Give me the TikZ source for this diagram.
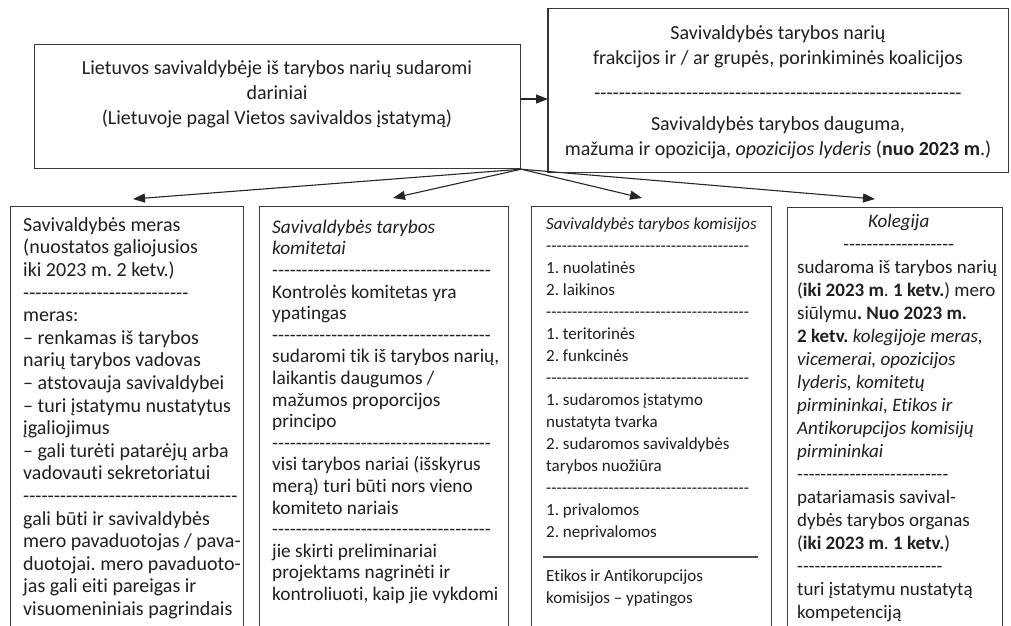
\documentclass[tikz,border=0pt]{standalone}
\usepackage{fontspec}
\setmainfont{Carlito}[Ligatures={TeX,NoCommon}]
\usetikzlibrary{arrows.meta}
\ExplSyntaxOn
\cs_new:Npn \dashes #1 { \prg_replicate:nn {#1} { -\kern0pt } }
\ExplSyntaxOff
\frenchspacing
\begin{document}
\begin{tikzpicture}[x=1pt,y=-1pt,
  box/.style={draw=black!78, line width=1.2pt, rectangle, inner sep=0pt, anchor=north west},
  txt/.style={inner sep=0pt, anchor=north west, align=left, text=black!88},
  ctxt/.style={inner sep=0pt, anchor=north, align=center, text=black!88},
  arr/.style={-{Triangle[length=12pt,width=9pt]}, line width=1.1pt, draw=black!85},
  rule/.style={draw=black!70, line width=1.3pt}]
\useasboundingbox (0,0) rectangle (1011,625);
\clip (0,0) rectangle (1011,625);
\fill[white] (0,0) rectangle (1011,625);

% top boxes
\node[box, minimum width=486pt, minimum height=124pt] (main) at (34,44) {};
\node[ctxt, font=\fontsize{20}{25}\selectfont] (maintxt) at (277,56.5)
  {\strut Lietuvos savivaldybėje iš tarybos narių sudaromi\\
   dariniai\\
   (Lietuvoje pagal Vietos savivaldos įstatymą)};

\node[box, minimum width=460pt, minimum height=164pt] (right) at (548,8) {};
\draw[draw=black!80, line width=2.2pt] (right.north west) -- (right.south west);
\node[ctxt, font=\fontsize{20}{25}\selectfont] (righttxt) at (778,21.5)
  {\strut Savivaldybės tarybos narių\\
   frakcijos ir / ar grupės, porinkiminės koalicijos\\[10pt]
   \dashes{60}\\[6pt]
   Savivaldybės tarybos dauguma,\\
   mažuma ir opozicija, \textit{opozicijos lyderis} (\textbf{nuo 2023 m}.)};

% bottom boxes
\node[box, minimum width=233pt, minimum height=440pt] (b1) at (10,206) {};
\node[box, minimum width=249pt, minimum height=440pt] (b2) at (259,206) {};
\node[box, minimum width=240pt, minimum height=440pt] (b3) at (531,206) {};
\node[box, minimum width=215pt, minimum height=440pt] (b4) at (787,207) {};

\node[txt, font=\fontsize{20}{22.6}\selectfont] (b1t) at (23,215.2)
  {\strut Savivaldybės meras\\
   (nuostatos galiojusios\\
   iki 2023 m. 2 ketv.)\\
   \dashes{27}\\
   meras:\\
   – renkamas iš tarybos\\
   narių tarybos vadovas\\
   – atstovauja savivaldybei\\
   – turi įstatymu nustatytus\\
   įgaliojimus\\
   – gali turėti patarėjų arba\\
   vadovauti sekretoriatui\\
   \dashes{35}\\
   gali būti ir savivaldybės\\
   mero pavaduotojas / pava-\\
   duotojai. mero pavaduoto-\\
   jas gali eiti pareigas ir\\
   visuomeniniais pagrindais};

\node[txt, font=\fontsize{19.3}{21.6}\selectfont] (b2t) at (272,217.9)
  {\strut\textit{Savivaldybės tarybos}\\
   \textit{komitetai}\\
   \dashes{37}\\
   Kontrolės komitetas yra\\
   ypatingas\\
   \dashes{37}\\
   sudaromi tik iš tarybos narių,\\
   laikantis daugumos /\\
   mažumos proporcijos\\
   principo\\
   \dashes{37}\\
   visi tarybos nariai (išskyrus\\
   merą) turi būti nors vieno\\
   komiteto nariais\\
   \dashes{37}\\
   jie skirti preliminariai\\
   projektams nagrinėti ir\\
   kontroliuoti, kaip jie vykdomi};

\node[txt, font=\fontsize{17}{22}\selectfont] (b3t) at (546,213.6)
  {\strut\textit{Savivaldybės tarybos komisijos}\\
   \dashes{39}\\
   1. nuolatinės\\
   2. laikinos\\
   \dashes{39}\\
   1. teritorinės\\
   2. funkcinės\\
   \dashes{39}\\
   1. sudaromos įstatymo\\
   nustatyta tvarka\\
   2. sudaromos savivaldybės\\
   tarybos nuožiūra\\
   \dashes{39}\\
   1. privalomos\\
   2. neprivalomos\\
   \mbox{}\\
   Etikos ir Antikorupcijos\\
   komisijos – ypatingos};
\draw[rule] (543,557) -- (758,557);

\node[txt, font=\fontsize{19}{23}\selectfont] (b4t) at (797,211.6)
  {\strut\makebox[203pt]{\textit{Kolegija}}\\
   \makebox[203pt]{\dashes{19}}\\
   sudaroma iš tarybos narių\\
   (\textbf{iki 2023 m}. \textbf{1 ketv.}) mero\\
   siūlymu\textbf{. Nuo 2023 m.}\\
   \textbf{2 ketv.} \textit{kolegijoje meras,}\\
   \textit{vicemerai, opozicijos}\\
   \textit{lyderis, komitetų}\\
   \textit{pirmininkai, Etikos ir}\\
   \textit{Antikorupcijos komisijų}\\
   \textit{pirmininkai}\\
   \dashes{26}\\
   patariamasis savival-\\
   dybės tarybos organas\\
   (\textbf{iki 2023 m}. \textbf{1 ketv.})\\
   \dashes{25}\\
   turi įstatymu nustatytą\\
   kompetenciją};

% connectors
\coordinate (t1) at (133,199);
\coordinate (t2) at (393,198);
\coordinate (t3) at (642,198);
\coordinate (t4) at (875,199);
\draw[arr] (main.south east) -- (t1);
\draw[arr] (main.south east) -- (t2);
\draw[arr] (main.south east) -- (t3);
\draw[arr] (main.south east) -- (t4);
\draw[arr] (main.east |- 0,99) -- (right.west |- 0,99);
\end{tikzpicture}
\end{document}
